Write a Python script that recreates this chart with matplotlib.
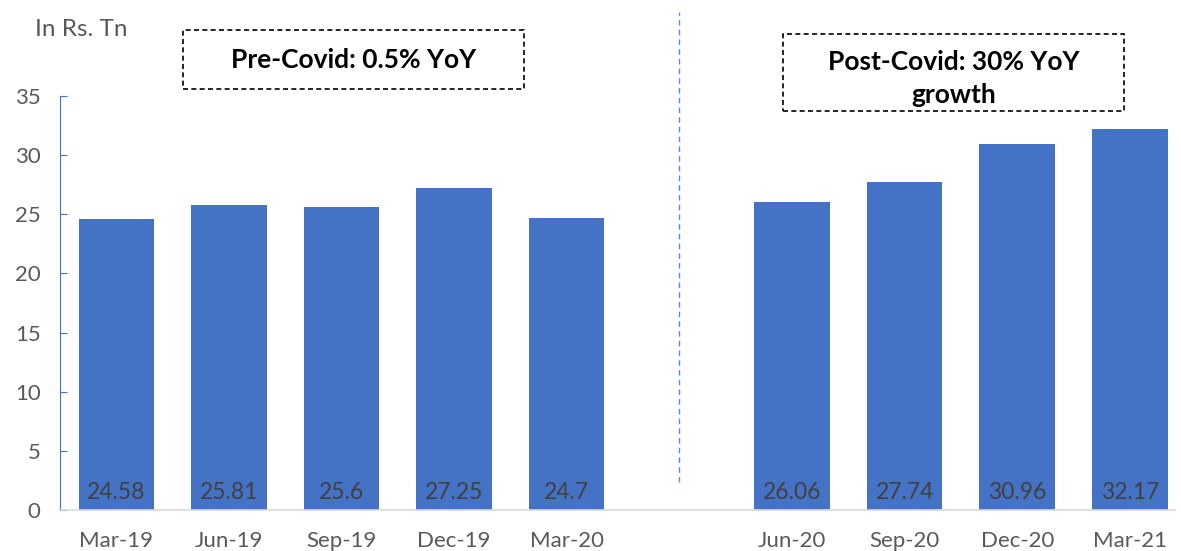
import numpy as np
import matplotlib.pyplot as plt
from matplotlib.patches import Rectangle
from matplotlib.lines import Line2D
from matplotlib.transforms import blended_transform_factory

plt.rcParams['font.family'] = ['Lato', 'DejaVu Sans']

# data
pre_labels = ['Mar-19', 'Jun-19', 'Sep-19', 'Dec-19', 'Mar-20']
pre_values = [24.58, 25.81, 25.6, 27.25, 24.7]
post_labels = ['Jun-20', 'Sep-20', 'Dec-20', 'Mar-21']
post_values = [26.06, 27.74, 30.96, 32.17]
pre_note = 'Pre-Covid: 0.5% YoY'
post_note = 'Post-Covid: 30% YoY\ngrowth'

blue = '#4472C4'
grey_txt = '#595959'

x_pre = np.arange(len(pre_values))
gap = len(pre_values)
x_post = np.arange(len(post_values)) + gap + 1

fig = plt.figure(figsize=(11.81, 5.51), dpi=100)
ax = fig.add_axes([0.0508, 0.0744, 0.944, 0.7514])

ax.bar(x_pre, pre_values, width=0.67, color=blue)
ax.bar(x_post, post_values, width=0.67, color=blue)

for x, v in zip(list(x_pre) + list(x_post), pre_values + post_values):
    ax.text(x, 1.5, f'{v:g}', ha='center', va='center', fontsize=16.5, color='#404040')

ax.set_xlim(-0.5, 9.4)
ax.set_ylim(0, 35)
ax.set_yticks(np.arange(0, 36, 5))
ax.set_xticks(list(x_pre) + list(x_post))
ax.set_xticklabels(pre_labels + post_labels)

ax.spines['top'].set_visible(False)
ax.spines['right'].set_visible(False)
ax.spines['left'].set_color(blue)
ax.spines['bottom'].set_color('#D9D9D9')
ax.spines['bottom'].set_linewidth(1.2)
ax.tick_params(axis='y', direction='in', length=5, color=blue, labelsize=16,
               labelcolor=grey_txt, pad=14)
ax.tick_params(axis='x', length=0, labelsize=16, labelcolor=grey_txt, pad=15)

# dashed divider between pre and post covid
trans = blended_transform_factory(ax.transData, fig.transFigure)
fig.add_artist(Line2D([gap, gap], [0.125, 0.978], transform=trans, color='#5B8BD6',
                      linestyle=(0, (4, 3)), linewidth=1))

fig.text(35 / 1181, 1 - 30 / 551, 'In Rs. Tn', fontsize=17.5, color=grey_txt, va='center')

# annotation boxes
fig.add_artist(Rectangle((0.155, 0.8385), 0.2887, 0.1071, transform=fig.transFigure,
                         fill=False, edgecolor='black', linestyle=(0, (3, 2)), linewidth=1.2))
fig.text(0.2993, 0.892, pre_note, ha='center', va='center', fontsize=19, fontweight='bold')
fig.add_artist(Rectangle((0.663, 0.7985), 0.2887, 0.1398, transform=fig.transFigure,
                         fill=False, edgecolor='black', linestyle=(0, (3, 2)), linewidth=1.2))
fig.text(0.8074, 0.858, post_note, ha='center', va='center', fontsize=19,
         fontweight='bold', linespacing=1.45)

fig.savefig('out.png', dpi=100)
